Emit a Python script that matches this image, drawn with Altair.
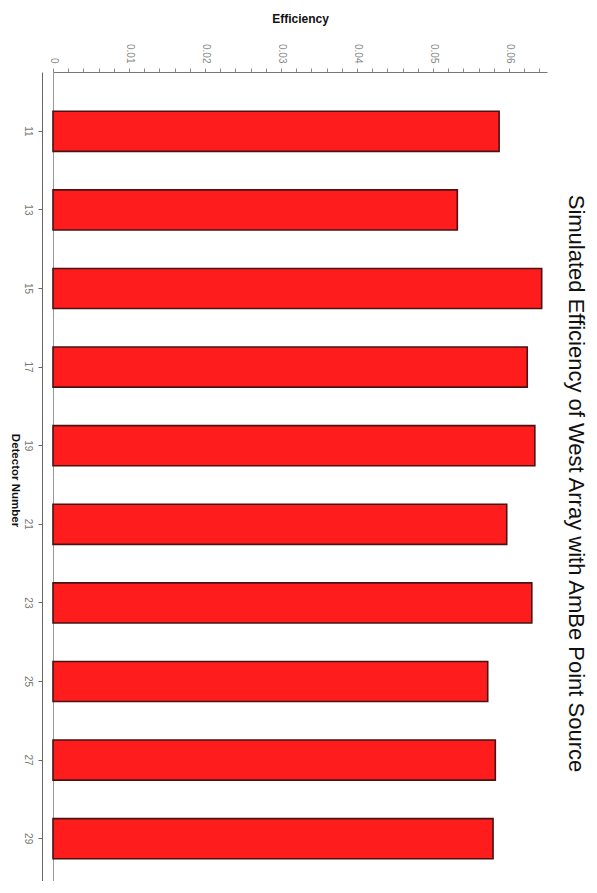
import altair as alt
import pandas as pd

detectors = ["11", "13", "15", "17", "19", "21", "23", "25", "27", "29"]
efficiency = [0.0587, 0.0532, 0.0643, 0.0624, 0.0634, 0.0597, 0.0630, 0.0572, 0.0582, 0.0579]
tick_values = [0, 0.002, 0.004, 0.006, 0.008, 0.01, 0.012, 0.014, 0.016, 0.018,
               0.02, 0.022, 0.024, 0.026, 0.028, 0.03, 0.032, 0.034, 0.036, 0.038,
               0.04, 0.042, 0.044, 0.046, 0.048, 0.05, 0.052, 0.054, 0.056, 0.058,
               0.06, 0.062, 0.064]

df = pd.DataFrame({"Detector": detectors, "Efficiency": efficiency})
FONT = "Liberation Sans"

chart = alt.Chart(df).mark_bar(
    color="#ff1c1c", stroke="#4a1212", strokeWidth=1.6
).encode(
    y=alt.Y(
        "Detector:N", sort=detectors,
        scale=alt.Scale(range=[0, 826], paddingInner=0.49, paddingOuter=0.5),
        axis=alt.Axis(
            title="Detector Number", orient="left", offset=11,
            labelAngle=90, labelAlign="center", labelBaseline="top",
            labelFont=FONT, labelFontSize=10, labelColor="#777", labelPadding=6,
            tickSize=4, tickColor="#666", domainColor="#666",
            titleAngle=90, titleFont=FONT, titleFontSize=11.5, titleFontWeight="bold",
            titleColor="#111", titleX=-28, titleY=408,
            titleAlign="center", titleBaseline="middle",
        ),
    ),
    x=alt.X(
        "Efficiency:Q",
        scale=alt.Scale(domain=[0, 0.065], nice=False, zero=True),
        axis=alt.Axis(
            title="Efficiency", orient="top", values=tick_values,
            labelExpr="abs(round(datum.value*1000) % 10) == 0 ? (datum.value == 0 ? '0' : format(datum.value, '.2f')) : ''",
            labelAngle=90, labelAlign="right", labelBaseline="middle",
            labelOverlap=False, labelFlush=False, labelBound=False,
            labelFont=FONT, labelFontSize=10, labelColor="#888", labelPadding=5,
            tickSize=4, tickColor="#888", domainColor="#777",
            grid=True, gridColor="#999",
            gridOpacity=alt.condition("datum.value == 0", alt.value(1), alt.value(0)),
            titleFont=FONT, titleFontSize=12, titleFontWeight="bold", titleColor="#111",
            titlePadding=18,
        ),
    ),
).properties(
    width=494, height=805,
    background="white",
    padding={"left": 45, "top": 64, "right": 42, "bottom": 4},
    autosize=alt.AutoSizeParams(type="none"),
    title=alt.TitleParams(
        "Simulated Efficiency of West Array with AmBe Point Source",
        orient="right", angle=90, anchor="middle", font=FONT, fontSize=22,
        fontWeight="normal", color="#111", offset=28, dy=11, dx=9,
    ),
).configure_view(stroke=None)

chart.save("out.html", embed_options={"renderer": "svg", "actions": False})
